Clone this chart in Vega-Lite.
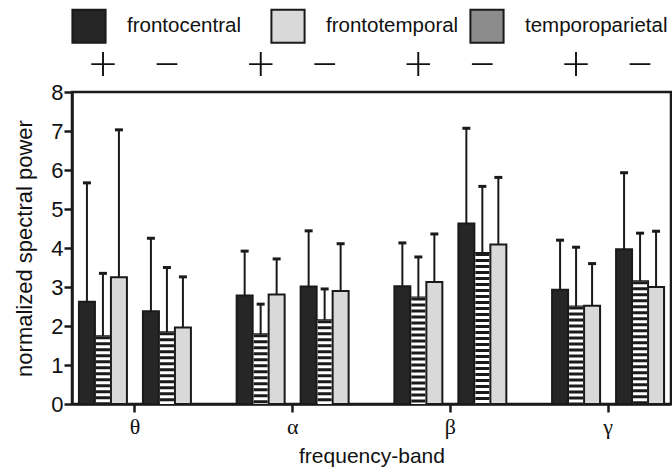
{
  "$schema": "https://vega.github.io/schema/vega-lite/v6.json",
  "width": 599,
  "height": 312,
  "autosize": {"type": "none"},
  "padding": {"left": 72, "top": 92, "right": 1, "bottom": 66},
  "background": "white",
  "config": {
    "view": {"stroke": "#1a1a1a", "strokeWidth": 2.5},
    "font": "Liberation Sans",
    "axisY": {"tickCount": 9, "labelOverlap": false}
  },
  "data": {
    "values": [
      {"band": "θ", "sign": "+", "region": "frontocentral", "slot": "+ frontocentral", "mean": 2.62, "upper": 5.67},
      {"band": "θ", "sign": "+", "region": "temporoparietal", "slot": "+ temporoparietal", "mean": 1.74, "upper": 3.35},
      {"band": "θ", "sign": "+", "region": "frontotemporal", "slot": "+ frontotemporal", "mean": 3.25, "upper": 7.03},
      {"band": "θ", "sign": "−", "region": "frontocentral", "slot": "− frontocentral", "mean": 2.38, "upper": 4.25},
      {"band": "θ", "sign": "−", "region": "temporoparietal", "slot": "− temporoparietal", "mean": 1.84, "upper": 3.5},
      {"band": "θ", "sign": "−", "region": "frontotemporal", "slot": "− frontotemporal", "mean": 1.96, "upper": 3.26},
      {"band": "α", "sign": "+", "region": "frontocentral", "slot": "+ frontocentral", "mean": 2.78, "upper": 3.92},
      {"band": "α", "sign": "+", "region": "temporoparietal", "slot": "+ temporoparietal", "mean": 1.79, "upper": 2.56},
      {"band": "α", "sign": "+", "region": "frontotemporal", "slot": "+ frontotemporal", "mean": 2.81, "upper": 3.72},
      {"band": "α", "sign": "−", "region": "frontocentral", "slot": "− frontocentral", "mean": 3.01, "upper": 4.44},
      {"band": "α", "sign": "−", "region": "temporoparietal", "slot": "− temporoparietal", "mean": 2.15, "upper": 2.95},
      {"band": "α", "sign": "−", "region": "frontotemporal", "slot": "− frontotemporal", "mean": 2.9, "upper": 4.11},
      {"band": "β", "sign": "+", "region": "frontocentral", "slot": "+ frontocentral", "mean": 3.02, "upper": 4.13},
      {"band": "β", "sign": "+", "region": "temporoparietal", "slot": "+ temporoparietal", "mean": 2.73, "upper": 3.77},
      {"band": "β", "sign": "+", "region": "frontotemporal", "slot": "+ frontotemporal", "mean": 3.13, "upper": 4.36},
      {"band": "β", "sign": "−", "region": "frontocentral", "slot": "− frontocentral", "mean": 4.63, "upper": 7.07},
      {"band": "β", "sign": "−", "region": "temporoparietal", "slot": "− temporoparietal", "mean": 3.87, "upper": 5.58},
      {"band": "β", "sign": "−", "region": "frontotemporal", "slot": "− frontotemporal", "mean": 4.09, "upper": 5.81},
      {"band": "γ", "sign": "+", "region": "frontocentral", "slot": "+ frontocentral", "mean": 2.93, "upper": 4.2},
      {"band": "γ", "sign": "+", "region": "temporoparietal", "slot": "+ temporoparietal", "mean": 2.5, "upper": 4.02},
      {"band": "γ", "sign": "+", "region": "frontotemporal", "slot": "+ frontotemporal", "mean": 2.52, "upper": 3.6},
      {"band": "γ", "sign": "−", "region": "frontocentral", "slot": "− frontocentral", "mean": 3.97, "upper": 5.93},
      {"band": "γ", "sign": "−", "region": "temporoparietal", "slot": "− temporoparietal", "mean": 3.15, "upper": 4.38},
      {"band": "γ", "sign": "−", "region": "frontotemporal", "slot": "− frontotemporal", "mean": 3.0, "upper": 4.43}
    ]
  },
  "encoding": {
    "x": {
      "field": "band",
      "type": "nominal",
      "sort": ["θ", "α", "β", "γ"],
      "scale": {"domain": ["θ", "α", "β", "γ"], "paddingInner": 0.29, "paddingOuter": 0.044},
      "axis": {
        "title": "frequency-band",
        "titleFont": "Liberation Sans",
        "titleFontSize": 21,
        "titleFontWeight": "normal",
        "titleColor": "#111111",
        "titlePadding": 8,
        "labelFont": "Liberation Serif",
        "labelFontSize": 22,
        "labelAngle": 0,
        "labelPadding": 4,
        "labelColor": "#111111",
        "tickSize": 8,
        "tickWidth": 2.5,
        "tickColor": "#1a1a1a",
        "domainWidth": 2.5,
        "domainColor": "#1a1a1a"
      }
    },
    "xOffset": {
      "field": "slot",
      "type": "nominal",
      "scale": {"domain": ["+ frontocentral", "+ temporoparietal", "+ frontotemporal", "gap", "− frontocentral", "− temporoparietal", "− frontotemporal"]}
    }
  },
  "layer": [
    {
      "mark": {"type": "bar", "strokeWidth": 2, "opacity": 1},
      "encoding": {
        "y": {
          "field": "mean",
          "type": "quantitative",
          "scale": {"domain": [0, 8], "nice": false},
          "axis": {
            "values": [0, 1, 2, 3, 4, 5, 6, 7, 8],
            "tickCount": 9,
            "labelOverlap": false,
            "title": "normalized spectral power",
            "titleFont": "Liberation Sans",
            "titleFontSize": 22,
            "titleFontWeight": "normal",
            "titleColor": "#111111",
            "titlePadding": 14,
            "labelFontSize": 22,
            "labelColor": "#111111",
            "labelPadding": 1,
            "tickSize": 8,
            "tickWidth": 2.5,
            "tickColor": "#1a1a1a",
            "domainWidth": 2.5,
            "domainColor": "#1a1a1a",
            "grid": false
          }
        },
        "fill": {
          "field": "region",
          "type": "nominal",
          "scale": {
            "domain": ["frontocentral", "frontotemporal", "temporoparietal"],
            "range": ["#262626", "#d9d9d9", "#8c8c8c"]
          },
          "legend": {
            "orient": "none",
            "legendX": -1,
            "legendY": -84,
            "direction": "horizontal",
            "columns": 3,
            "gridAlign": "all",
            "columnPadding": -4,
            "title": null,
            "padding": 0,
            "symbolType": "square",
            "symbolSize": 1100,
            "symbolStrokeWidth": 2,
            "symbolOpacity": 1,
            "labelFont": "Liberation Sans",
            "labelFontSize": 20.5,
            "labelOffset": 20,
            "labelColor": "#111111"
          }
        },
        "stroke": {
          "field": "region",
          "type": "nominal",
          "scale": {
            "domain": ["frontocentral", "frontotemporal", "temporoparietal"],
            "range": ["#1a1a1a", "#1a1a1a", "#1a1a1a"]
          }
        }
      }
    },
    {
      "transform": [{"filter": "datum.region === 'temporoparietal'"}],
      "mark": {"type": "rule", "color": "#ffffff", "strokeWidth": 14},
      "encoding": {
        "y": {"field": "mean", "type": "quantitative"},
        "y2": {"datum": 0}
      }
    },
    {
      "transform": [{"filter": "datum.region === 'temporoparietal'"}],
      "mark": {"type": "rule", "color": "#1a1a1a", "strokeWidth": 14, "strokeDash": [3, 3]},
      "encoding": {
        "y": {"field": "mean", "type": "quantitative"},
        "y2": {"datum": 0}
      }
    },
    {
      "mark": {"type": "rule", "color": "#1a1a1a", "strokeWidth": 2},
      "encoding": {
        "y": {"field": "mean", "type": "quantitative"},
        "y2": {"field": "upper"}
      }
    },
    {
      "mark": {"type": "tick", "color": "#1a1a1a", "size": 8, "thickness": 3, "opacity": 1},
      "encoding": {
        "y": {"field": "upper", "type": "quantitative"}
      }
    },
    {
      "transform": [{"filter": "datum.region === 'temporoparietal'"}],
      "mark": {"type": "text", "font": "Lato", "fontWeight": 300, "fontSize": 50, "baseline": "middle", "align": "center", "color": "#111111"},
      "encoding": {
        "text": {"field": "sign"},
        "y": {"datum": 8.66}
      }
    }
  ]
}
